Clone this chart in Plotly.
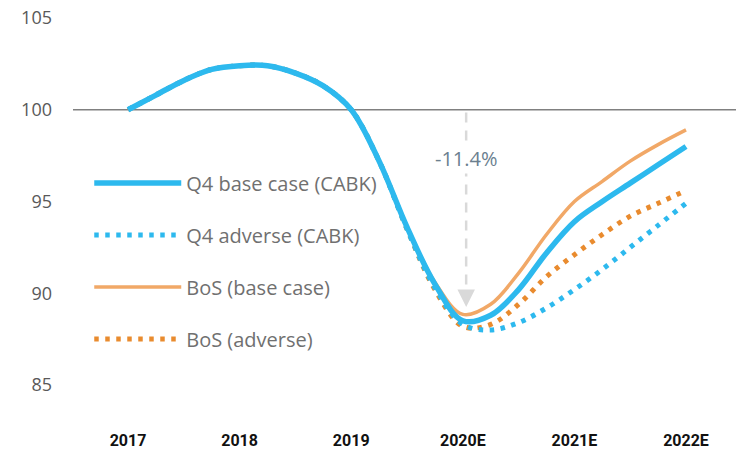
import plotly.graph_objects as go

# ---- data (quarterly index, 2017 = 100) ----
quarters = [2017.00, 2017.25, 2017.50, 2017.75, 2018.00, 2018.25, 2018.50, 2018.75,
            2019.00, 2019.25, 2019.50, 2019.75, 2020.00, 2020.25, 2020.50, 2020.75,
            2021.00, 2021.25, 2021.50, 2021.75, 2022.00]

q4_base = [100.0, 100.8, 101.6, 102.2, 102.4, 102.4, 102.0, 101.3,
           100.0, 97.2, 93.6, 90.5, 88.5, 88.8, 90.2, 92.2,
           93.9, 95.0, 96.0, 97.0, 98.0]

q4_adverse = [100.0, 100.8, 101.6, 102.2, 102.4, 102.4, 102.0, 101.3,
              100.0, 97.2, 93.5, 90.3, 88.3, 88.0, 88.4, 89.2,
              90.2, 91.3, 92.5, 93.7, 94.9]

bos_base = [100.0, 100.8, 101.6, 102.2, 102.4, 102.4, 102.0, 101.3,
            100.0, 97.2, 93.6, 90.6, 88.85, 89.4, 91.1, 93.2,
            95.0, 96.1, 97.2, 98.1, 98.9]

bos_adverse = [100.0, 100.8, 101.6, 102.2, 102.4, 102.4, 102.0, 101.3,
               100.0, 97.2, 93.5, 90.2, 88.2, 88.3, 89.4, 90.9,
               92.1, 93.2, 94.2, 94.9, 95.6]

year_ticks = [2017, 2018, 2019, 2020, 2021, 2022]
year_labels = ["2017", "2018", "2019", "2020E", "2021E", "2022E"]
y_ticks = [85, 90, 95, 100, 105]

trough_label = "-11.4%"
trough_year = 2020.03
trough_tip = 89.25

BLUE = "#2DB9EE"
ORANGE = "#F1A867"
ORANGE_DOT = "#E98B2E"

FONT = "Open Sans"

fig = go.Figure()

# draw order: dotted first, thick blue last (on top)
fig.add_trace(go.Scatter(x=quarters, y=bos_adverse, mode="lines", name="BoS (adverse)",
                         line=dict(color=ORANGE_DOT, width=5, dash="4.5px,6.5px", shape="spline", smoothing=1.0),
                         legendrank=4, legendgroup="d"))
fig.add_trace(go.Scatter(x=quarters, y=q4_adverse, mode="lines", name="Q4 adverse (CABK)",
                         line=dict(color=BLUE, width=5, dash="4.5px,6.5px", shape="spline", smoothing=1.0),
                         legendrank=2, legendgroup="b"))
fig.add_trace(go.Scatter(x=quarters, y=bos_base, mode="lines", name="BoS (base case)",
                         line=dict(color=ORANGE, width=3.5, shape="spline", smoothing=1.0),
                         legendrank=3, legendgroup="c"))
fig.add_trace(go.Scatter(x=quarters, y=q4_base, mode="lines", name="Q4 base case (CABK)",
                         line=dict(color=BLUE, width=5.5, shape="spline", smoothing=1.0),
                         legendrank=1, legendgroup="a"))

# reference line at 100
fig.add_shape(type="line", xref="paper", x0=0, x1=1, yref="y", y0=100, y1=100,
              line=dict(color="#808080", width=1.5), layer="below")

# dashed drop line
fig.add_shape(type="line", xref="x", x0=trough_year, x1=trough_year, yref="y",
              y0=99.85, y1=trough_tip + 0.6,
              line=dict(color="#D9D9D9", width=2.5, dash="10px,8px"), layer="below")

# arrow head
fig.add_annotation(x=trough_year, y=trough_tip, xref="x", yref="y", text="",
                   showarrow=True, ax=0, ay=-18, arrowhead=2, arrowsize=1.4,
                   arrowwidth=2.5, arrowcolor="#D9D9D9")

# label
fig.add_annotation(x=trough_year, y=97.35, xref="x", yref="y", text=trough_label,
                   showarrow=False, bgcolor="white",
                   font=dict(family=FONT, size=20, color="#6B7F8F"))

fig.update_layout(
    width=736, height=453,
    margin=dict(l=73, r=0, t=8, b=38),
    paper_bgcolor="white", plot_bgcolor="white",
    showlegend=True,
    legend=dict(x=0.0245, y=0.618, xanchor="left", yanchor="top",
                font=dict(family=FONT, size=20, color="#707070"),
                itemwidth=87, tracegroupgap=23, traceorder="grouped",
                bgcolor="rgba(0,0,0,0)"),
    xaxis=dict(range=[2016.507, 2022.448], tickvals=year_ticks, ticktext=year_labels,
               showgrid=False, zeroline=False, showline=False, ticks="",
               tickfont=dict(family="Roboto", size=16, color="#111111", weight="bold"),
               ticklabelstandoff=14),
    yaxis=dict(range=[83.365, 105.545], tickvals=y_ticks,
               showgrid=False, zeroline=False, showline=False, ticks="",
               tickfont=dict(family=FONT, size=18, color="#595959"),
               ticklabelstandoff=20),
)

fig.write_html("out.html", config={"displayModeBar": False},
               post_script="document.body.style.margin='0';")
